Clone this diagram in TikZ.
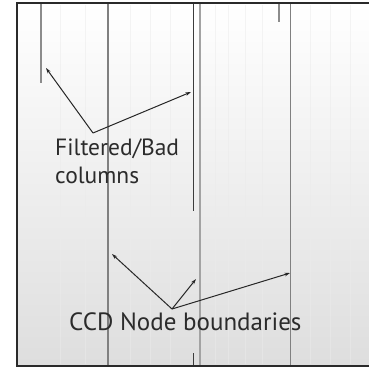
\documentclass[tikz,border=0pt]{standalone}
\usepackage{fontspec}
\setmainfont{PT Sans}
\usetikzlibrary{arrows.meta}
\definecolor{frame}{HTML}{2A2A2A}
\definecolor{bound}{HTML}{808080}
\definecolor{badc}{HTML}{8C8C8C}
\definecolor{badd}{HTML}{3C3C3C}
\definecolor{txt}{HTML}{2B2B2B}
\tikzset{
  boundary/.style={draw=bound, line width=1.2pt},
  badcol/.style={draw=badc, line width=2pt},
  badcoldark/.style={draw=badd, line width=1.6pt},
  pointer/.style={draw=black!85, line width=1pt, -{Stealth[length=5.5pt,width=3.5pt]}},
  label/.style={inner sep=0pt, anchor=base west, text=txt, font=\fontsize{23.5}{28}\selectfont}
}
\begin{document}
\begin{tikzpicture}[x=1pt,y=-1pt]
\useasboundingbox (0,0) rectangle (369,368);
\begin{scope}
\clip (0,0) rectangle (369,368);
\shade[top color=white, bottom color=black!13] (17,3) rectangle (372,366);
% faint streaks
\foreach \xx in {60,85,130,150,170,215,228,245,262,310,330,350}
  \draw[white!92!black, line width=0.6pt, opacity=0.5] (\xx,5) -- (\xx,364);
% node boundaries
\draw[boundary] (108,3) -- (108,366);
\draw[draw=badc!80, line width=2pt] (199.5,3) -- (199.5,366);
\draw[boundary] (290.5,3) -- (290.5,366);
% bad columns
\draw[badcol] (40.5,3) -- (40.5,83);
\draw[badcoldark] (193.3,3) -- (193.3,211);
\draw[badcoldark] (193.3,353) -- (193.3,366);
\draw[badcol] (279.3,3) -- (279.3,22);
% frame
\draw[frame, line width=2.8pt] (17,3) rectangle (380,366);
\end{scope}
% labels
\node[label] (fb) at (55,155) {Filtered/Bad};
\node[label] (col) at (55,183) {columns};
\node[label, font=\fontsize{25}{28}\selectfont] (ccd) at (69,330) {CCD Node boundaries};
% arrow endpoints
\coordinate (fo) at (93,133);
\coordinate (fa) at (46,68);
\coordinate (fbb) at (191,92);
\coordinate (co) at (172,309);
\coordinate (ca) at (112,254);
\coordinate (cb) at (196,279);
\coordinate (cc) at (290,273);
\draw[pointer] (fo) -- (fa);
\draw[pointer] (fo) -- (fbb);
\draw[pointer] (co) -- (ca);
\draw[pointer] (co) -- (cb);
\draw[pointer] (co) -- (cc);
\end{tikzpicture}
\end{document}
